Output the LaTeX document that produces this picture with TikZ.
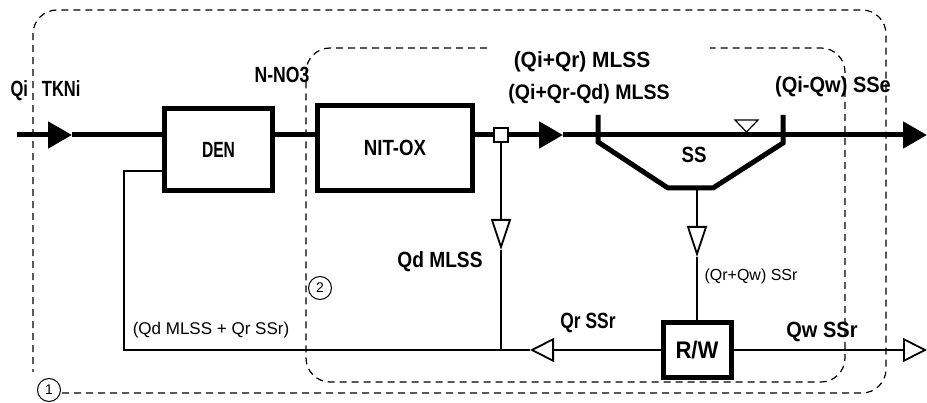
\documentclass[tikz,border=0pt]{standalone}
\usepackage{fontspec}
\setmainfont{Liberation Sans}
\usetikzlibrary{arrows.meta}

\begin{document}
\begin{tikzpicture}[x=1pt,y=-1pt,
    unit/.style={draw, line width=5pt, inner sep=0pt},
    lbl/.style 2 args={font=\fontsize{#1}{#1}\selectfont\bfseries\addfontfeature{FakeStretch=#2}},
    note/.style={font=\fontsize{#1}{#1}\selectfont},
    note/.default=16,
    flow/.style={line width=5pt},
    pipe/.style={line width=1.8pt},
    bound/.style={line width=1.2pt, dash pattern=on 7pt off 5pt, rounded corners=24pt},
    tag/.style={draw, circle, line width=1pt, inner sep=0pt, minimum size=23pt, font=\fontsize{14}{14}\selectfont},
    fillhead/.style={-{Triangle[length=24pt,width=26pt]}},
    downhead/.style={-{Triangle[open,length=31pt,width=20pt]}},
    sidehead/.style={-{Triangle[open,length=24pt,width=24pt]}}]
    \useasboundingbox (0,0) rectangle (927,403);

    % control volumes
    \node[tag] (one) at (49,390) {1};
    \node[tag] (two) at (320,288) {2};
    \coordinate (ob) at (62,393);
    \draw[bound] (ob) -- (886,393) -- (886,10) -- (33,10) -- (33,372);
    \draw[bound] (487,48) -- (306,48) -- (306,382) -- (845,382) -- (845,48) -- (710,48);

    % main line
    \coordinate (in) at (17,135);
    \coordinate (a1) at (72,135);
    \node[unit, minimum width=108pt, minimum height=82pt, lbl={22}{0.71}] (den) at (218.5,149.5) {DEN};
    \node[unit, minimum width=155pt, minimum height=85pt, lbl={22}{0.85}] (nit) at (395,148) {NIT-OX};
    \node[draw, fill=white, line width=1.8pt, minimum size=14pt, inner sep=0pt] (split) at (501,135) {};
    \coordinate (a2) at (563,135);
    \coordinate (out) at (927,135);
    \draw[flow, fillhead] (in) -- (a1);
    \draw[flow] (a1) -- (den.west |- a1);
    \draw[flow] (den.east |- a1) -- (nit.west |- a1);
    \draw[flow] (nit.east |- a1) -- (split.west);
    \draw[flow, fillhead] (split.east) -- (a2);
    \draw[flow, fillhead] (a2) -- (out);

    % settler
    \draw[flow] (598,115) -- (598,142) -- (668,188) -- (713,188) -- (783,143) -- (783,115);
    \draw[line width=1.2pt] (735,120) -- (758,120) -- (746.5,132) -- cycle;
    \node[lbl={22}{0.85}] (ss) at (694,155) {SS};
    \coordinate (ssb) at (697,188);

    % recycle and waste
    \node[unit, minimum width=68pt, minimum height=55pt, lbl={24}{0.92}] (rw) at (697,350) {R/W};
    \coordinate (sstip) at (697,257);
    \draw[pipe, downhead] (ssb) -- (sstip);
    \draw[pipe] (sstip) -- (rw.north);
    \coordinate (dtip) at (501,250);
    \coordinate (jn) at (501,350);
    \draw[pipe, downhead] (split.south) -- (dtip);
    \draw[pipe] (dtip) -- (jn);
    \coordinate (rtip) at (530,350);
    \coordinate (rc1) at (124,350);
    \coordinate (rc2) at (124,171);
    \draw[pipe, sidehead] (rw.west) -- (rtip);
    \draw[pipe] (rtip) -- (rc1) -- (rc2) -- (den.west |- rc2);
    \coordinate (wout) at (927,350);
    \draw[pipe, sidehead] (rw.east) -- (wout);

    % labels
    \node[lbl={22}{0.75}] (qi) at (45.5,90.5) {Qi\hspace{14pt}TKNi};
    \node[lbl={22}{0.8}] (no3) at (282,75) {N-NO3};
    \node[lbl={22}{0.95}] (mix) at (582,62) {(Qi+Qr) MLSS};
    \node[lbl={21}{0.93}] (nitout) at (589,94) {(Qi+Qr-Qd) MLSS};
    \node[lbl={22}{0.91}] (eff) at (833,87) {(Qi-Qw) SSe};
    \node[lbl={22}{0.87}] (qd) at (440,262) {Qd MLSS};
    \node[lbl={22}{0.79}] (qr) at (588,323) {Qr SSr};
    \node[lbl={22}{0.91}] (qw) at (822,332) {Qw SSr};
    \node[note=17] (ret) at (211,330) {(Qd MLSS + Qr SSr)};
    \node[note] (under) at (751,276) {(Qr+Qw) SSr};
\end{tikzpicture}
\end{document}
